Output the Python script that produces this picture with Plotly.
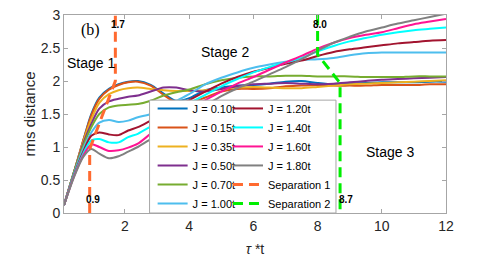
import plotly.graph_objects as go

# ---- data ----
tau = [0.1, 0.4, 0.7, 0.95, 1.2, 1.5, 1.8, 2.1, 2.4, 2.8, 3.2, 3.6, 4.0, 4.5, 5.0,
       5.5, 6.0, 6.5, 7.0, 7.5, 8.0, 8.5, 9.0, 9.5, 10.0, 10.5, 11.0, 11.5, 12.0]

J_labels = ["J = 0.10t", "J = 0.15t", "J = 0.35t", "J = 0.50t", "J = 0.70t",
            "J = 1.00t", "J = 1.20t", "J = 1.40t", "J = 1.60t", "J = 1.80t"]

rms_J010 = [0.12, 0.6, 1.1, 1.5, 1.75, 1.88, 1.95, 1.99, 2.0, 1.94, 1.81, 1.7, 1.74, 1.86, 1.9,
            1.93, 1.94, 1.96, 1.99, 2.0, 1.97, 1.95, 1.96, 1.97, 1.98, 1.98, 1.98, 1.99, 1.99]
rms_J015 = [0.12, 0.6, 1.1, 1.48, 1.73, 1.87, 1.94, 1.98, 1.99, 1.93, 1.79, 1.67, 1.66, 1.75, 1.84,
            1.88, 1.88, 1.89, 1.92, 1.93, 1.94, 1.93, 1.93, 1.93, 1.94, 1.94, 1.94, 1.95, 1.95]
rms_J035 = [0.12, 0.6, 1.08, 1.42, 1.67, 1.8, 1.86, 1.89, 1.9, 1.88, 1.86, 1.85, 1.85, 1.86, 1.88,
            1.9, 1.91, 1.9, 1.89, 1.89, 1.91, 1.93, 1.95, 1.96, 1.97, 1.98, 1.99, 2.0, 2.01]
rms_J050 = [0.12, 0.6, 1.05, 1.35, 1.58, 1.69, 1.73, 1.76, 1.78, 1.84, 1.9, 1.9, 1.86, 1.84, 1.88,
            1.92, 1.95, 1.96, 1.97, 1.96, 1.95, 1.96, 1.98, 2.0, 2.02, 2.03, 2.04, 2.05, 2.06]
rms_J070 = [0.12, 0.6, 1.02, 1.3, 1.5, 1.6, 1.63, 1.64, 1.65, 1.7, 1.78, 1.83, 1.87, 1.95, 2.01,
            2.05, 2.07, 2.07, 2.08, 2.08, 2.07, 2.07, 2.07, 2.06, 2.06, 2.06, 2.07, 2.07, 2.07]
rms_J100 = [0.12, 0.58, 0.98, 1.22, 1.37, 1.41, 1.38, 1.4, 1.45, 1.5, 1.6, 1.7, 1.8, 1.95, 2.05,
            2.13, 2.2, 2.25, 2.29, 2.32, 2.33, 2.35, 2.39, 2.42, 2.43, 2.43, 2.43, 2.43, 2.43]
rms_J120 = [0.12, 0.56, 0.93, 1.17, 1.22, 1.19, 1.18, 1.25, 1.3, 1.4, 1.5, 1.6, 1.71, 1.84, 1.96,
            2.06, 2.14, 2.2, 2.26, 2.31, 2.38, 2.44, 2.48, 2.51, 2.54, 2.57, 2.59, 2.61, 2.62]
rms_J140 = [0.12, 0.55, 0.9, 1.1, 1.12, 1.07, 1.07, 1.15, 1.2, 1.31, 1.42, 1.54, 1.66, 1.79, 1.92,
            2.03, 2.13, 2.21, 2.28, 2.35, 2.45, 2.53, 2.6, 2.65, 2.7, 2.74, 2.77, 2.79, 2.81]
rms_J160 = [0.12, 0.54, 0.87, 1.04, 1.0, 0.94, 0.95, 0.99, 1.05, 1.2, 1.34, 1.47, 1.58, 1.71, 1.84,
            1.96, 2.06, 2.17, 2.28, 2.38, 2.49, 2.58, 2.65, 2.7, 2.74, 2.8, 2.86, 2.9, 2.94]
rms_J180 = [0.12, 0.53, 0.85, 0.97, 0.9, 0.83, 0.86, 0.93, 1.0, 1.12, 1.24, 1.37, 1.49, 1.63, 1.77,
            1.89, 1.99, 2.1, 2.21, 2.33, 2.46, 2.58, 2.67, 2.75, 2.81, 2.87, 2.92, 2.97, 3.02]

sep1_tau = [0.9, 0.9, 1.7, 1.7]
sep1_rms = [0.0, 0.97, 2.0, 3.0]
sep2_tau = [8.0, 8.0, 8.7, 8.7]
sep2_rms = [3.0, 2.4, 1.97, 0.0]

x_ticks = [2, 4, 6, 8, 10, 12]
y_ticks = [0, 0.5, 1, 1.5, 2, 2.5, 3]

# ---- styles ----
colors = ["#0072BD", "#D95319", "#EDB120", "#7E2F8E", "#77AC30",
          "#4DBEEE", "#A2142F", "#00FFFF", "#FF1493", "#808080"]
series = [rms_J010, rms_J015, rms_J035, rms_J050, rms_J070,
          rms_J100, rms_J120, rms_J140, rms_J160, rms_J180]

FONT = "Liberation Sans, Arial, sans-serif"

fig = go.Figure()
for i, (lab, ys) in enumerate(zip(J_labels, series)):
    fig.add_trace(go.Scatter(
        x=tau, y=ys, name=lab, mode="lines",
        line=dict(color=colors[i], width=2, shape="spline", smoothing=0.8),
        legend="legend" if i < 6 else "legend2",
    ))

fig.add_trace(go.Scatter(x=sep1_tau, y=sep1_rms, name="Separation 1", mode="lines",
                         line=dict(color="#FF6A30", width=3, dash="10px,6px"),
                         legend="legend2"))
fig.add_trace(go.Scatter(x=sep2_tau, y=sep2_rms, name="Separation 2", mode="lines",
                         line=dict(color="#00EE00", width=3, dash="10px,6px"),
                         legend="legend2"))

axis_common = dict(showline=True, linecolor="#a6a6a6", linewidth=1, mirror="ticks",
                   ticks="inside", ticklen=4, tickcolor="#a6a6a6", showgrid=False,
                   zeroline=False, ticklabeloverflow="allow",
                   tickfont=dict(family=FONT, size=14, color="#262626"))

fig.update_xaxes(range=[0.1, 12], tickvals=x_ticks, **axis_common,
                 title=dict(text="<i>τ</i> *t", font=dict(family=FONT, size=14, color="#262626"),
                            standoff=24))
fig.update_yaxes(range=[0, 3], tickvals=y_ticks, **axis_common,
                 title=dict(text="rms distance", font=dict(family=FONT, size=15, color="#262626"),
                            standoff=1))

ann_font = dict(family=FONT, size=14, color="#000000")
bold_font = dict(family=FONT, size=10, color="#000000")
annotations = [
    dict(x=0.91, y=2.77, text="(b)", font=dict(family="Liberation Serif, Times New Roman, serif", size=16, color="#000")),
    dict(x=0.93, y=2.27, text="Stage 1", font=ann_font),
    dict(x=5.1, y=2.44, text="Stage 2", font=ann_font),
    dict(x=10.24, y=0.93, text="Stage 3", font=ann_font),
    dict(x=1.79, y=2.86, text="<b>1.7</b>", font=bold_font),
    dict(x=8.06, y=2.86, text="<b>8.0</b>", font=bold_font),
    dict(x=1.01, y=0.21, text="<b>0.9</b>", font=bold_font),
    dict(x=8.88, y=0.21, text="<b>8.7</b>", font=bold_font),
]
for a in annotations:
    a.update(xref="x", yref="y", showarrow=False)

leg_common = dict(font=dict(family=FONT, size=11, color="#000"), bgcolor="rgba(0,0,0,0)",
                  borderwidth=0, yanchor="bottom", y=-0.025, tracegroupgap=0)

# page body has an 8px margin, so the figure is 8px smaller than the window
fig.update_layout(
    width=486, height=249,
    margin=dict(l=56, r=48, t=7, b=44, autoexpand=False),
    paper_bgcolor="white", plot_bgcolor="white",
    annotations=annotations,
    legend=dict(**leg_common, xanchor="left", x=0.232),
    legend2=dict(**leg_common, xanchor="right", x=0.712),
    shapes=[dict(type="rect", xref="paper", yref="paper", x0=0.224, x1=0.712, y0=0.0, y1=0.57,
                 fillcolor="white", line=dict(color="#a6a6a6", width=1), layer="above")],
)

fig.write_html("out.html")
